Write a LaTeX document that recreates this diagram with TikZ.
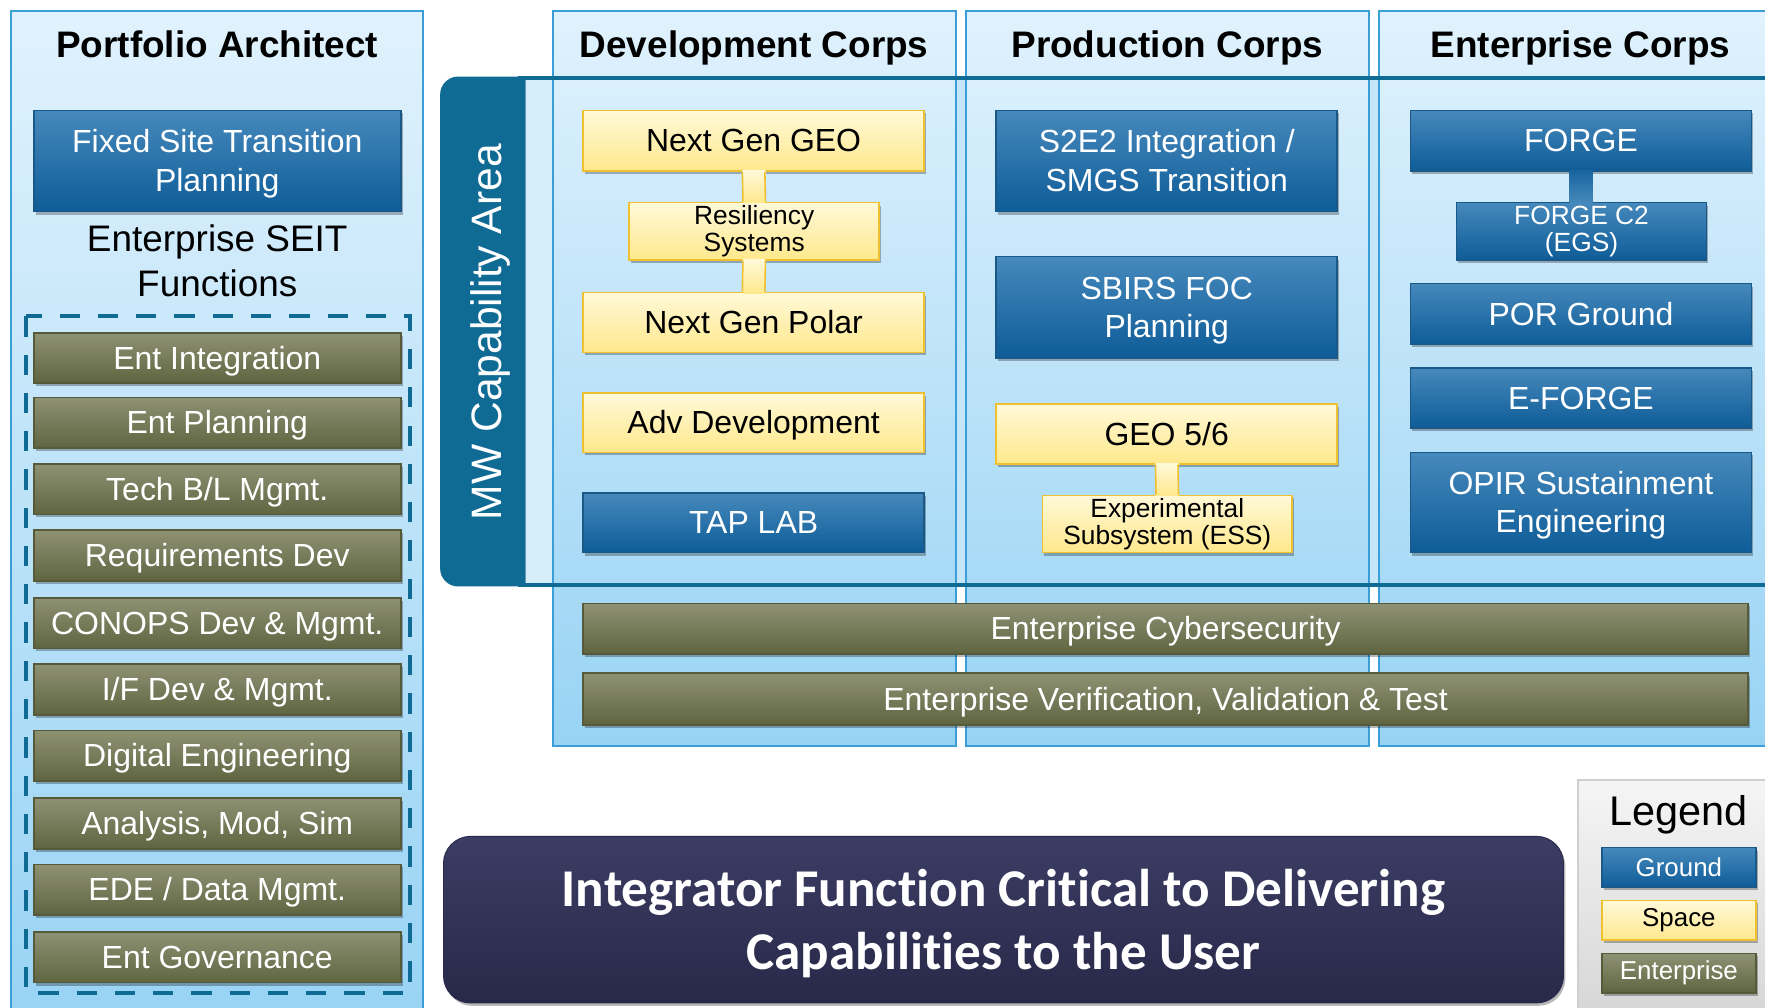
\documentclass[tikz,border=0pt]{standalone}
\usepackage{fontspec}
\setmainfont{Liberation Sans}
\newfontfamily\carlito[Ligatures={NoCommon,NoRare}]{Carlito}
\usetikzlibrary{shadows,calc}

\definecolor{pTop}{HTML}{E0F2FD}
\definecolor{pBot}{HTML}{98D3F4}
\definecolor{pBrd}{HTML}{3A9FD8}
\definecolor{bandFill}{HTML}{C4E6F8}
\definecolor{mwTeal}{HTML}{0F6A94}
\definecolor{bTop}{HTML}{4689BC}
\definecolor{bBot}{HTML}{0E5C98}
\definecolor{bBrd}{HTML}{1A5888}
\definecolor{yTop}{HTML}{FFF9D8}
\definecolor{yBot}{HTML}{FFE88C}
\definecolor{yBrd}{HTML}{EFC030}
\definecolor{gTop}{HTML}{8E9274}
\definecolor{gBot}{HTML}{5F6440}
\definecolor{gBrd}{HTML}{575A38}
\definecolor{nTop}{HTML}{3C3D63}
\definecolor{nBot}{HTML}{28284A}
\definecolor{lTop}{HTML}{F5F5F5}
\definecolor{lBot}{HTML}{D5D5D5}
\definecolor{lBrd}{HTML}{CFCFCF}

\newcommand{\st}{\rule[-0.212em]{0pt}{1.117em}}
\newcommand{\bsta}{\rule[-0.1em]{0pt}{1.05em}}
\newcommand{\bstb}{\rule[-0.26em]{0pt}{0.36em}}

\tikzset{
  shad/.style={drop shadow={shadow xshift=0.8pt,shadow yshift=-1.3pt,opacity=0.28,fill=black}},
  boxbase/.style={inner sep=0pt, align=center, line width=0.7pt, shad},
  bluebox/.style={boxbase, draw=bBrd, top color=bTop, bottom color=bBot, text=white},
  yelbox/.style={boxbase, draw=yBrd, top color=yTop, bottom color=yBot, text=black},
  grnbox/.style={boxbase, draw=gBrd, top color=gTop, bottom color=gBot, text=white},
  bigf/.style={font=\fontsize{14.2}{17}\selectfont},
  smallf/.style={font=\fontsize{11.7}{12}\selectfont},
  legf/.style={font=\fontsize{11.5}{13}\selectfont},
  paneltitle/.style={inner sep=0pt, font=\bfseries\fontsize{16.4}{20}\selectfont},
  panel/.style={draw=pBrd, line width=0.9pt, top color=pTop, bottom color=pBot},
}

% box with struts (PowerPoint-like centering)
\newcommand{\bx}[7]{\node[#1, minimum width={(#5-#3)*0.5pt}, minimum height={(#6-#4)*0.5pt}] (#2) at ({(#3+#5)/2},{(#4+#6)/2}) {\st #7\st};}
% box without struts
\newcommand{\bxs}[7]{\node[#1, minimum width={(#5-#3)*0.5pt}, minimum height={(#6-#4)*0.5pt}] (#2) at ({(#3+#5)/2},{(#4+#6)/2}) {#7};}

\begin{document}
\begin{tikzpicture}[x=0.5pt,y=-0.5pt]
\useasboundingbox (0,0) rectangle (1568,895);
\fill[white] (0,0) rectangle (1568,895);

% band background
\fill[bandFill] (467,68) rectangle (1590,520);

% panels
\path[panel] (10,10) rectangle (376,910);
\path[panel] (491,10) rectangle (849,663);
\path[panel] (858,10) rectangle (1216,663);
\path[panel] (1225,10) rectangle (1590,663);

% lighter strip left of Development panel
\fill[bandFill!70!white] (467,70) rectangle (490,519);

% band outline and tab
\draw[mwTeal, line width=1.6pt] (460,69.5) -- (1590,69.5);
\draw[mwTeal, line width=1.6pt] (460,519.5) -- (1590,519.5);
\fill[mwTeal] (467,68) [rounded corners=8pt] -- (391,68) -- (391,521) [sharp corners] -- (467,521) -- cycle;
\node[rotate=90, text=white, inner sep=0pt, font=\fontsize{18.9}{22}\selectfont] (mw) at (432,295) {\st MW Capability Area};

% titles
\node[paneltitle] (tpa) at (193,40) {\st Portfolio Architect};
\node[paneltitle] (tdc) at (670,40) {\st Development Corps};
\node[paneltitle] (tpc) at (1037,40) {\st Production Corps};
\node[paneltitle] (tec) at (1404,40) {\st Enterprise Corps};

% Portfolio Architect
\bx{bluebox,bigf}{fst}{30}{98}{356}{188}{Fixed Site Transition\\Planning}
\node[inner sep=0pt, align=center, font=\fontsize{16.4}{20}\selectfont] (seit) at (193,232) {Enterprise SEIT\\Functions};
\draw[mwTeal, line width=1.8pt, dash pattern=on 9pt off 8pt] (23,281) rectangle (364,882);
\bx{grnbox,bigf}{g1}{30}{296}{356}{340}{Ent Integration}
\bx{grnbox,bigf}{g2}{30}{353}{356}{398}{Ent Planning}
\bx{grnbox,bigf}{g3}{30}{412}{356}{457}{Tech B/L Mgmt.}
\bx{grnbox,bigf}{g4}{30}{471}{356}{516}{Requirements Dev}
\bx{grnbox,bigf}{g5}{30}{531}{356}{576}{CONOPS Dev \& Mgmt.}
\bx{grnbox,bigf}{g6}{30}{590}{356}{635}{I/F Dev \& Mgmt.}
\bx{grnbox,bigf}{g7}{30}{649}{356}{694}{Digital Engineering}
\bx{grnbox,bigf}{g8}{30}{709}{356}{754}{Analysis, Mod, Sim}
\bx{grnbox,bigf}{g9}{30}{768}{356}{813}{EDE / Data Mgmt.}
\bx{grnbox,bigf}{g10}{30}{828}{356}{873}{Ent Governance}

% Development Corps
\bx{yelbox,bigf}{ngg}{518}{98}{821}{152}{Next Gen GEO}
\bxs{yelbox,smallf}{res}{559}{180}{781}{231}{Resiliency\\Systems}
\bx{yelbox,bigf}{ngp}{518}{260}{821}{313}{Next Gen Polar}
\bx{yelbox,bigf}{adv}{518}{349}{821}{402}{Adv Development}
\bx{bluebox,bigf}{tap}{518}{438}{821}{491}{TAP LAB}
\shade[top color=yTop, bottom color=yBot] ($(ngg.south)+(-10,-1)$) rectangle ($(res.north)+(10,1)$);
\draw[yBrd, line width=0.7pt] ($(ngg.south)+(-10,0)$) -- ($(res.north)+(-10,0)$) ($(ngg.south)+(10,0)$) -- ($(res.north)+(10,0)$);
\shade[top color=yTop, bottom color=yBot] ($(res.south)+(-10,-1)$) rectangle ($(ngp.north)+(10,1)$);
\draw[yBrd, line width=0.7pt] ($(res.south)+(-10,0)$) -- ($(ngp.north)+(-10,0)$) ($(res.south)+(10,0)$) -- ($(ngp.north)+(10,0)$);

% Production Corps
\bx{bluebox,bigf}{s2e2}{885}{98}{1188}{188}{S2E2 Integration /\\SMGS Transition}
\bx{bluebox,bigf}{sbirs}{885}{228}{1188}{318}{SBIRS FOC\\Planning}
\bx{yelbox,bigf}{geo}{885}{359}{1188}{412}{GEO 5/6}
\bxs{yelbox,smallf}{ess}{926}{440}{1148}{491}{Experimental\\Subsystem (ESS)}
\shade[top color=yTop, bottom color=yBot] ($(geo.south)+(-10,-1)$) rectangle ($(ess.north)+(10,1)$);
\draw[yBrd, line width=0.7pt] ($(geo.south)+(-10,0)$) -- ($(ess.north)+(-10,0)$) ($(geo.south)+(10,0)$) -- ($(ess.north)+(10,0)$);

% Enterprise Corps
\bx{bluebox,bigf}{forge}{1253}{98}{1556}{152}{FORGE}
\bxs{bluebox,smallf}{fc2}{1294}{180}{1516}{231}{FORGE C2\\(EGS)}
\bx{bluebox,bigf}{por}{1253}{252}{1556}{306}{POR Ground}
\bx{bluebox,bigf}{eforge}{1253}{327}{1556}{380}{E-FORGE}
\bx{bluebox,bigf}{opir}{1253}{402}{1556}{491}{OPIR Sustainment\\Engineering}
\shade[top color=bBot!80!bTop, bottom color=bTop] ($(forge.south)+(-10,-1)$) rectangle ($(fc2.north)+(10,1)$);

% cross-cutting
\bx{grnbox,bigf}{cyber}{518}{536}{1553}{581}{Enterprise Cybersecurity}
\bx{grnbox,bigf}{vvt}{518}{598}{1553}{644}{Enterprise Verification, Validation \& Test}

% banner
\node[shad, top color=nTop, bottom color=nBot, draw=nBot, rounded corners=12pt, inner sep=0pt,
  minimum width={995*0.5pt}, minimum height={148*0.5pt}, text=white, align=center,
  font=\carlito\bfseries\fontsize{23.6}{28}\selectfont] (banner) at (891.5,817) {\bsta Integrator Function Critical to Delivering\\Capabilities to the User\bstb};

% legend
\path[draw=lBrd, line width=0.8pt, top color=lTop, bottom color=lBot] (1402,693) rectangle (1590,910);
\node[inner sep=0pt, font=\fontsize{18.4}{22}\selectfont] (legt) at (1491,721) {\st Legend};
\bxs{bluebox,legf}{lg}{1423}{753}{1560}{788}{Ground}
\bxs{yelbox,legf}{ls}{1423}{800}{1560}{835}{Space}
\bxs{grnbox,legf}{le}{1423}{847}{1560}{882}{Enterprise}
\end{tikzpicture}
\end{document}
